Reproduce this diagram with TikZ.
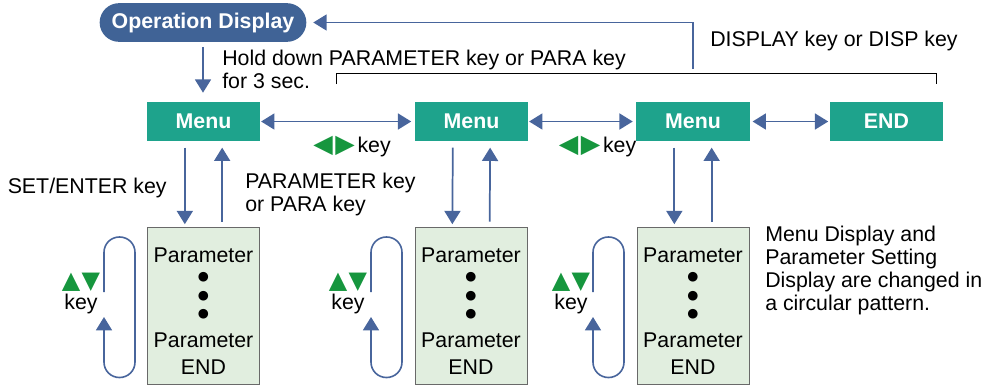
\documentclass[tikz,border=0pt]{standalone}
\usepackage{fontspec}
\setmainfont{Liberation Sans}
\newfontfamily\symfont{DejaVu Sans}
\usepackage{tikz}
\usetikzlibrary{arrows.meta,positioning}
\definecolor{opblue}{RGB}{64,99,150}
\definecolor{flowblue}{RGB}{72,101,156}
\definecolor{menuteal}{RGB}{30,163,140}
\definecolor{keygreen}{RGB}{22,150,62}
\definecolor{parafill}{RGB}{225,238,223}
\definecolor{paraedge}{RGB}{105,105,105}
\newcommand{\diagfont}{\fontsize{16}{17.25}\selectfont}
\newcommand{\updown}{{\symfont\fontsize{18}{18}\selectfont\color{keygreen}▲\kern1pt▼}}
\newcommand{\leftright}{{\symfont\fontsize{19}{19}\selectfont\color{keygreen}◀\kern2pt▶}}
\newcommand{\listdot}{{\symfont\fontsize{9.5}{9.5}\selectfont●}}
\newcommand{\paralist}{\rule{0pt}{18.5pt}Parameter\\[-4pt]\listdot\\[-3.25pt]\listdot\\[-3.25pt]\listdot\\[5pt]Parameter\\[2.75pt]END}
\tikzset{
  opbox/.style={fill=opblue, text=white, font=\diagfont\bfseries, minimum width=155pt, minimum height=29pt, rounded corners=14.5pt, inner sep=0pt},
  menubox/.style={fill=menuteal, text=white, font=\diagfont\bfseries, minimum width=85pt, minimum height=28.8pt, inner sep=0pt},
  parabox/.style={draw=paraedge, line width=0.7pt, fill=parafill, font=\diagfont, minimum width=84pt, minimum height=118pt, align=center, inner sep=0pt},
  note/.style={font=\diagfont, inner sep=0pt, align=left},
  tip/.style={-{Triangle[length=10pt,width=12pt]}},
  flow/.style={flowblue, line width=1.3pt, tip},
  twoway/.style={flowblue, line width=1.3pt, {Triangle[length=10pt,width=12pt]}-{Triangle[length=10pt,width=12pt]}},
  cycle/.style={flowblue, line width=1.2pt, rounded corners=11.5pt, tip},
}

\begin{document}
\begin{tikzpicture}[x=0.75pt, y=-0.75pt, font=\diagfont]
    \useasboundingbox (0,0) rectangle (986,387);

    % Operation display and the menus
    \node[opbox] (opdisp) at (203,22.5) {Operation Display};
    \node[menubox] (m1) at (203.5,121.5) {Menu};
    \node[menubox] (m2) at (471.5,121.5) {Menu};
    \node[menubox] (m3) at (693,121.5) {Menu};
    \node[menubox] (mend) at (886.5,121.5) {END};

    % Parameter lists
    \node[parabox] (p1) at (203.5,306) {\paralist};
    \node[parabox] (p2) at (471,306) {\paralist};
    \node[parabox] (p3) at (693,306) {\paralist};

    % Into the menus and back
    \draw[flow, shorten <=3.5pt, shorten >=7pt] (opdisp.south) -- (opdisp.south |- m1.north);
    \node[note, anchor=north west] (holdtxt) at (222,50) {Hold down PARAMETER key or PARA key\\for 3 sec.};
    \coordinate (dispfoot) at (693,69);
    \draw[flowblue, line width=1pt, tip, shorten >=5pt] (dispfoot) |- (opdisp.east);
    \node[note, anchor=base west] (disptxt) at (710,46.5) {DISPLAY key or DISP key};
    \draw[line width=0.6pt] (336,84) |- (936,73) -- (936,84);

    % Moving between menus
    \draw[twoway, shorten <=0.5pt, shorten >=2.5pt] (m1) -- (m2);
    \draw[twoway, shorten <=0.5pt, shorten >=2.5pt] (m2) -- (m3);
    \draw[twoway, shorten <=2pt, shorten >=1pt] (m3) -- (mend);
    \node[note, anchor=base] (lrkey1) at (352,152.3) {\leftright\kern2pt key};
    \node[note, anchor=base] (lrkey2) at (597.5,152.3) {\leftright\kern2pt key};

    % Menu to parameters
    \draw[flow, shorten <=5pt, shorten >=2pt] ([xshift=-14pt]m1.south) -- ([xshift=-14pt]p1.north);
    \draw[flow, shorten <=4pt, shorten >=5pt] ([xshift=14pt]p1.north) -- ([xshift=14pt]m1.south);
    \draw[flow, shorten <=5pt, shorten >=2pt] ([xshift=-14pt]m2.south) -- ([xshift=-14pt]p2.north);
    \draw[flow, shorten <=4pt, shorten >=5pt] ([xshift=14pt]p2.north) -- ([xshift=14pt]m2.south);
    \draw[flow, shorten <=5pt, shorten >=2pt] ([xshift=-14pt]m3.south) -- ([xshift=-14pt]p3.north);
    \draw[flow, shorten <=4pt, shorten >=5pt] ([xshift=14pt]p3.north) -- ([xshift=14pt]m3.south);
    \node[note, anchor=base west] (settxt) at (7.5,193.3) {SET/ENTER key};
    \node[note, anchor=north west] (paratxt) at (245,172.5) {PARAMETER key\\or PARA key};

    % Stepping through the parameters
    \draw[cycle] (104,292) -- (104,237) -- (135,237) -- (135,377.5) -- (104,377.5) -- (104,317);
    \draw[cycle] (371,292) -- (371,237) -- (402,237) -- (402,377.5) -- (371,377.5) -- (371,317);
    \draw[cycle] (593,292) -- (593,237) -- (624,237) -- (624,377.5) -- (593,377.5) -- (593,317);
    \node[note, align=center, anchor=north] (udkey1) at (81,272.5) {\updown\\[-1pt]key};
    \node[note, align=center, anchor=north] (udkey2) at (348,272.5) {\updown\\[-1pt]key};
    \node[note, align=center, anchor=north] (udkey3) at (571,272.5) {\updown\\[-1pt]key};

    \node[note, anchor=north west] (cycletxt) at (765,225.5) {Menu Display and\\Parameter Setting\\Display are changed in\\a circular pattern.};
\end{tikzpicture}
\end{document}
